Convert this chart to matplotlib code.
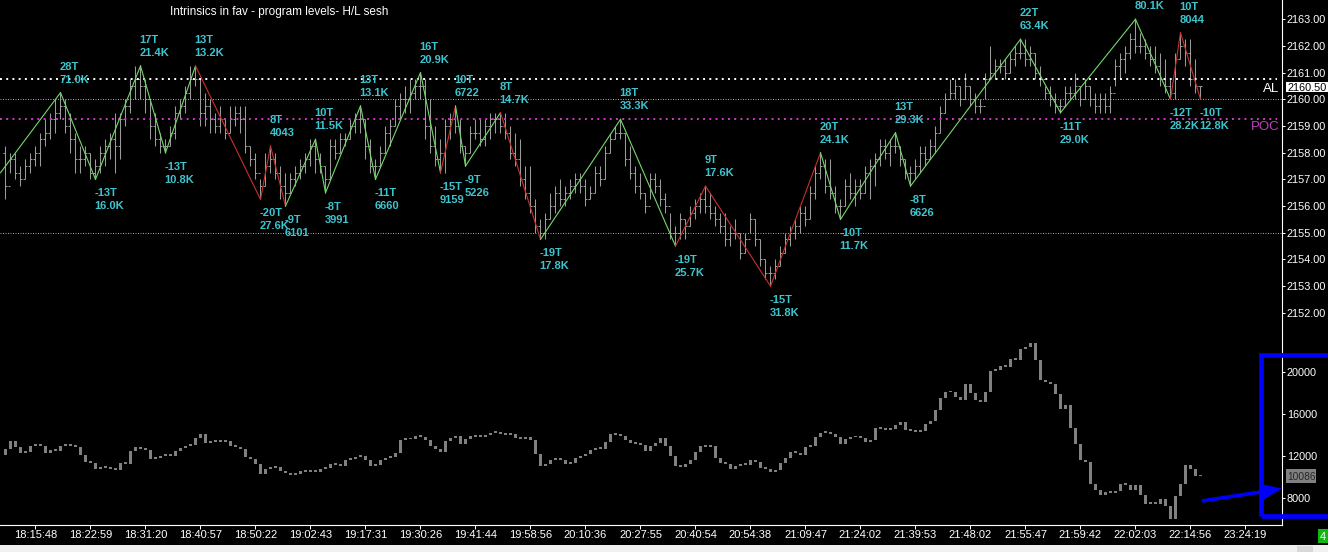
import numpy as np
import matplotlib
matplotlib.use("Agg")
import matplotlib.pyplot as plt
from matplotlib.patches import Rectangle, Polygon
from matplotlib.lines import Line2D

W, H, DPI = 1328, 552, 100

# ---- upper pane: price bars, in 0.25 ticks above 2150.00 ----
hi_t = [33, 32, 32, 30, 31, 32, 33, 35, 37, 38,
        40, 41, 40, 38, 35, 33, 33, 32, 31, 33,
        34, 35, 38, 38, 40, 43, 45, 45, 43, 40,
        38, 35, 34, 36, 39, 40, 42, 45, 45, 43,
        41, 40, 38, 39, 37, 39, 39, 39, 39, 33,
        32, 28, 32, 33, 32, 30, 29, 29, 30, 31,
        32, 34, 34, 32, 30, 34, 34, 35, 35, 37,
        38, 39, 37, 34, 31, 33, 36, 37, 40, 41,
        42, 43, 43, 44, 43, 40, 36, 34, 37, 38,
        39, 37, 33, 36, 37, 37, 37, 38, 38, 38,
        38, 36, 35, 34, 30, 30, 25, 22, 23, 26,
        27, 28, 27, 28, 29, 29, 28, 27, 30, 30,
        33, 35, 36, 37, 35, 33, 30, 29, 26, 29,
        29, 28, 26, 23, 21, 23, 22, 24, 25, 26,
        27, 26, 24, 23, 23, 21, 22, 20, 20, 23,
        22, 19, 16, 15, 16, 18, 20, 21, 22, 24,
        24, 27, 30, 32, 31, 31, 27, 25, 28, 29,
        28, 28, 30, 31, 32, 34, 34, 34, 35, 33,
        31, 30, 31, 33, 33, 34, 36, 39, 41, 43,
        43, 42, 44, 42, 41, 40, 44, 48, 46, 46,
        46, 47, 48, 49, 49, 48, 47, 45, 42, 42,
        41, 40, 42, 42, 44, 42, 43, 42, 41, 41,
        41, 42, 46, 47, 48, 50, 52, 50, 49, 48,
        48, 47, 46, 43, 47, 50, 49, 49, 46, 42]
lo_t = [25, 29, 28, 27, 28, 29, 30, 30, 33, 34,
        35, 37, 35, 32, 29, 29, 30, 28, 28, 29,
        30, 31, 29, 31, 36, 38, 40, 40, 38, 34,
        33, 32, 32, 33, 34, 37, 38, 40, 42, 36,
        36, 35, 35, 35, 34, 35, 36, 35, 32, 30,
        28, 25, 27, 29, 28, 25, 24, 26, 27, 28,
        29, 30, 29, 29, 26, 28, 31, 32, 33, 34,
        35, 35, 31, 29, 28, 30, 32, 33, 36, 37,
        38, 38, 40, 40, 34, 32, 30, 29, 29, 34,
        35, 32, 30, 32, 34, 33, 33, 34, 35, 35,
        34, 31, 30, 27, 25, 23, 20, 19, 19, 22,
        23, 24, 24, 25, 26, 26, 24, 25, 26, 27,
        28, 32, 34, 34, 30, 28, 26, 25, 23, 25,
        26, 24, 23, 19, 18, 19, 19, 21, 22, 23,
        23, 22, 21, 20, 18, 18, 19, 16, 17, 20,
        18, 15, 13, 12, 13, 15, 17, 18, 19, 20,
        21, 22, 25, 28, 26, 25, 23, 22, 24, 25,
        24, 25, 26, 25, 27, 30, 31, 30, 32, 30,
        28, 27, 28, 29, 30, 31, 32, 35, 38, 40,
        40, 39, 40, 39, 38, 38, 40, 43, 43, 44,
        43, 44, 45, 46, 45, 45, 43, 42, 40, 39,
        38, 38, 39, 40, 40, 39, 40, 39, 38, 38,
        38, 38, 42, 43, 44, 46, 47, 47, 46, 45,
        44, 42, 41, 40, 40, 46, 45, 42, 41, 40]
cl_t = [27, 31, 29, 28, 30, 31, 32, 34, 35, 37,
        38, 39, 36, 34, 31, 31, 32, 29, 30, 32,
        33, 34, 33, 37, 39, 42, 43, 42, 40, 36,
        34, 33, 33, 35, 38, 39, 41, 43, 43, 38,
        39, 37, 36, 37, 35, 37, 38, 37, 33, 31,
        29, 27, 30, 31, 29, 27, 26, 28, 29, 30,
        31, 33, 31, 30, 28, 33, 32, 34, 34, 36,
        37, 37, 33, 30, 30, 32, 35, 36, 39, 40,
        40, 41, 42, 42, 36, 33, 31, 32, 36, 37,
        36, 33, 32, 35, 35, 34, 36, 37, 37, 36,
        35, 32, 31, 28, 26, 24, 21, 20, 22, 24,
        26, 25, 26, 27, 28, 27, 25, 26, 29, 28,
        32, 34, 35, 35, 31, 29, 27, 26, 24, 28,
        27, 25, 24, 20, 20, 22, 21, 23, 24, 25,
        24, 23, 22, 21, 19, 20, 20, 17, 19, 22,
        19, 16, 14, 14, 15, 17, 19, 20, 21, 23,
        22, 26, 29, 30, 27, 26, 24, 24, 27, 26,
        27, 26, 29, 30, 31, 33, 32, 33, 33, 31,
        29, 29, 30, 32, 31, 33, 35, 38, 40, 41,
        42, 40, 42, 40, 39, 39, 43, 44, 45, 45,
        44, 46, 47, 47, 46, 47, 44, 43, 41, 40,
        39, 39, 41, 41, 42, 40, 42, 40, 39, 40,
        39, 41, 45, 46, 47, 49, 48, 48, 47, 46,
        45, 43, 42, 41, 46, 48, 47, 43, 42, 42]
open0_t = 32

# ---- zigzag swing points (bar index, tick) with their two label lines ----
zz_bar = [-1, 11, 18, 27, 32, 38, 51, 53, 56, 62, 64, 71, 74, 83, 87, 90, 92,
          99, 107, 123, 134, 140, 153, 163, 167, 178, 181, 203, 211, 226, 233, 235, 239]
zz_tick = [29, 41, 28, 45, 32, 45, 25, 33, 24, 34, 26, 39, 28, 44, 29, 39, 30,
           38, 19, 37, 18, 27, 12, 32, 22, 35, 27, 49, 38, 52, 40, 50, 40]
zz_top = ["", "28T", "-13T", "17T", "-13T", "13T", "-20T", "8T", "-9T", "10T", "-8T",
          "13T", "-11T", "16T", "-15T", "10T", "-9T", "8T", "-19T", "18T", "-19T",
          "9T", "-15T", "20T", "-10T", "13T", "-8T", "22T", "-11T", "", "-12T", "10T", "-10T"]
zz_bot = ["", "71.0K", "16.0K", "21.4K", "10.8K", "13.2K", "27.6K", "4043", "6101",
          "11.5K", "3991", "13.1K", "6660", "20.9K", "9159", "6722", "5226", "14.7K",
          "17.8K", "33.3K", "25.7K", "17.6K", "31.8K", "24.1K", "11.7K", "29.3K",
          "6626", "63.4K", "29.0K", "80.1K", "28.2K", "8044", "12.8K"]
zz_col = "gggggrrrggggggrggrggrrrgggggggrr"

# ---- lower pane: indicator candles (closes) ----
sub_cl = [12690, 13460, 12880, 12310, 12410, 12980, 13070, 12980, 12310, 12600,
          12500, 12980, 13070, 12980, 12880, 12120, 11460, 11360, 10790, 10980,
          10880, 10790, 10700, 11360, 11270, 12500, 12880, 12690, 12600, 11740,
          11840, 12030, 12120, 12030, 12500, 12790, 12980, 13070, 13740, 14120,
          13270, 13360, 13420, 13360, 13420, 12980, 12900, 12690, 11930, 11740,
          11270, 10310, 10790, 10880, 10980, 10600, 10410, 10220, 10310, 10600,
          10520, 10690, 10500, 10790, 10880, 11270, 11200, 11080, 11650, 11740,
          11930, 12030, 11650, 11080, 11170, 11650, 11840, 11930, 12310, 13550,
          13650, 13600, 13930, 13880, 13550, 12980, 12690, 12410, 13460, 13740,
          13930, 13170, 13650, 13930, 13880, 13840, 14030, 14220, 14310, 14120,
          14030, 14120, 13740, 13690, 13840, 13550, 12220, 11080, 11270, 11650,
          11740, 11650, 11270, 11360, 11840, 12030, 12220, 12600, 12790, 12740,
          13360, 14120, 14070, 13930, 13550, 13270, 13170, 13070, 12500, 12980,
          13270, 13740, 12980, 12030, 11080, 11000, 11270, 11650, 12410, 12980,
          12880, 12980, 11840, 11360, 11300, 10790, 11080, 11270, 11200, 11650,
          11460, 10880, 10790, 10500, 10690, 11360, 11840, 12410, 12310, 12120,
          12880, 12980, 13840, 14220, 14310, 14120, 13840, 13170, 13650, 13840,
          13790, 13740, 13360, 13550, 14690, 14640, 14500, 14600, 14980, 15260,
          14500, 14450, 14310, 14410, 15070, 15360, 16410, 17550, 18120, 18080,
          17640, 17360, 18880, 18020, 17360, 17170, 18120, 20120, 20210, 20600,
          20500, 21260, 21210, 22210, 22400, 22790, 21170, 19260, 19070, 18880,
          17930, 16500, 16880, 14690, 13170, 11650, 11460, 9360, 8790, 8310,
          8600, 8550, 8700, 9360, 9310, 8790, 9270, 8310, 7460, 7550,
          7500, 7930, 7270, 6030, 8220, 9360, 11170, 10790, 10120, 10086]
sub_open0 = 12120

time_labels = ["18:15:48", "18:22:59", "18:31:20", "18:40:57", "18:50:22", "19:02:43",
               "19:17:31", "19:30:26", "19:41:44", "19:58:56", "20:10:36", "20:27:55",
               "20:40:54", "20:54:38", "21:09:47", "21:24:02", "21:39:53", "21:48:02",
               "21:55:47", "21:59:42", "22:02:03", "22:14:56", "23:24:19"]
price_ticks = [2152, 2153, 2154, 2155, 2156, 2157, 2158, 2159, 2160, 2161, 2162, 2163]
sub_ticks = [8000, 12000, 16000, 20000]

level_al = 2160.75
level_hi = 2160.00
level_poc = 2159.25
level_lo = 2155.00
last_price = 2160.50
last_sub = 10086

plt.rcParams['font.family'] = ['Liberation Sans', 'DejaVu Sans']

to_price = lambda t: 2150 + np.asarray(t, dtype=float) * 0.25
hi = to_price(hi_t)
lo = to_price(lo_t)
cl = to_price(cl_t)
op = np.concatenate([to_price([open0_t]), cl[:-1]])
x = np.arange(len(hi))

fig = plt.figure(figsize=(W / DPI, H / DPI), dpi=DPI, facecolor="black")


def fxy(px, py):
    return px / W, 1 - py / H


plot_right = 1282
ax1 = fig.add_axes([0, 1 - 335 / H, plot_right / W, 335 / H])
ax2 = fig.add_axes([0, 1 - 525 / H, plot_right / W, 190 / H])
for ax in (ax1, ax2):
    ax.set_facecolor("black")
    ax.set_xlim(-1.1, 255.3)
    for s in ("left", "top", "bottom"):
        ax.spines[s].set_visible(False)
    ax.spines["right"].set_color("white")
    ax.spines["right"].set_linewidth(0.8)
    ax.yaxis.tick_right()
    ax.tick_params(axis="y", colors="white", length=2.2, width=0.72, pad=1.2, labelsize=7.8)
    ax.tick_params(axis="x", bottom=False, labelbottom=False)

# upper pane
ax1.set_ylim(2151.17, 2163.72)
ax1.set_yticks(price_ticks)
ax1.set_yticklabels([f"{p:.2f}" for p in price_ticks])

bar_col = "#9a9a9a"
ax1.vlines(x, lo, hi, color=bar_col, lw=0.75, zorder=2)
ax1.hlines(op, x - 0.4, x, color=bar_col, lw=0.75, zorder=2)
ax1.hlines(cl, x, x + 0.4, color=bar_col, lw=0.75, zorder=2)

ax1.axhline(level_al, xmax=0.996, color="white", lw=1.4, linestyle=(0, (1, 2.2)), zorder=3)
ax1.axhline(level_hi, color="#5fc2c2", lw=0.72, linestyle=(0, (1, 1.5)), zorder=3)
ax1.axhline(level_poc, xmax=0.996, color="#c83cc8", lw=1.4, linestyle=(0, (1, 2.2)), zorder=3)
ax1.axhline(level_lo, color="#5fc2c2", lw=0.72, linestyle=(0, (1, 1.5)), zorder=3)

zz_p = to_price(zz_tick)
for k in range(len(zz_bar) - 1):
    c = "#74d96a" if zz_col[k] == "g" else "#c8302c"
    ax1.plot(zz_bar[k:k + 2], zz_p[k:k + 2], color=c, lw=0.8, zorder=4)

lab_col = "#3cc5cf"
for k in range(1, len(zz_bar)):
    peak = zz_tick[k] > zz_tick[k - 1]
    offs = (26, 13) if peak else (-14, -27)
    for txt, dy in zip((zz_top[k], zz_bot[k]), offs):
        if txt:
            ax1.annotate(txt, (zz_bar[k], zz_p[k]), xytext=(-1, dy),
                         textcoords="offset pixels", ha="left", va="center",
                         color=lab_col, fontsize=8, fontweight="bold", zorder=5)

# lower pane
sub_c = np.asarray(sub_cl, dtype=float)
sub_o = np.concatenate([[sub_open0], sub_c[:-1]])
ax2.set_ylim(5458, 23546)
ax2.set_yticks(sub_ticks)
ax2.set_yticklabels([str(v) for v in sub_ticks])
ax2.bar(x, np.maximum(np.abs(sub_c - sub_o), 170), bottom=np.minimum(sub_c, sub_o),
        width=0.6, color="#808080", linewidth=0, zorder=2)
ax2.spines["bottom"].set_visible(True)
ax2.spines["bottom"].set_color("white")
ax2.spines["bottom"].set_linewidth(0.8)
ax2.set_xticks(6 + 11 * np.arange(len(time_labels)))
ax2.set_xticklabels(time_labels)
ax2.tick_params(axis="x", bottom=True, labelbottom=True, colors="white",
                length=2.9, width=0.72, pad=0.6, labelsize=8)

# title
fig.text(*fxy(170, 11), "Intrinsics in fav - program levels- H/L sesh", color="white",
         fontsize=8.5, va="center_baseline")

# right-side markers
fig.text(*fxy(1279, 87), "AL", color="white", fontsize=9.5, ha="right", va="center_baseline")
fig.text(*fxy(1279, 126), "POC", color="#c040c0", fontsize=9.5, ha="right", va="center_baseline")

x0, y0 = fxy(1286, 92)
fig.patches.append(Rectangle((x0, y0), 50 / W, 10 / H, transform=fig.transFigure,
                             facecolor="white", edgecolor="none"))
fig.text(*fxy(1287, 87), f"{last_price:.2f}", color="black", fontsize=7.8, va="center_baseline")

x0, y0 = fxy(1286, 483)
fig.patches.append(Rectangle((x0, y0), 30 / W, 14 / H, transform=fig.transFigure,
                             facecolor="#808080", edgecolor="none"))
fig.text(*fxy(1287, 476), str(last_sub), color="#262626", fontsize=7.4, va="center_baseline")

# blue highlight box and arrow
x0, y0 = fxy(1260.5, 516)
fig.patches.append(Rectangle((x0, y0), 90 / W, 161 / H, transform=fig.transFigure,
                             facecolor="none", edgecolor="#0000ff", lw=3.4))
fig.lines.append(Line2D([1202 / W, 1264 / W], [1 - 501 / H, 1 - 491.5 / H],
                        transform=fig.transFigure, color="#0000ff", lw=2.6,
                        solid_capstyle="butt"))
head = [fxy(1282, 488.5), fxy(1263.2, 499.9), fxy(1260.8, 484.1)]
fig.patches.append(Polygon(head, closed=True, transform=fig.transFigure,
                           facecolor="#0000ff", edgecolor="none"))

# bottom status strip
x0, y0 = fxy(0, 552)
fig.patches.append(Rectangle((x0, y0), 1, 7 / H, transform=fig.transFigure,
                             facecolor="#f0f0f0", edgecolor="none"))
x0, y0 = fxy(1297, 552)
fig.patches.append(Rectangle((x0, y0), 16 / W, 6 / H, transform=fig.transFigure,
                             facecolor="#d8d8d8", edgecolor="none"))
x0, y0 = fxy(1318, 543)
fig.patches.append(Rectangle((x0, y0), 12 / W, 14 / H, transform=fig.transFigure,
                             facecolor="#12b812", edgecolor="none"))
fig.text(*fxy(1319.5, 536), "4", color="white", fontsize=8, va="center_baseline")

fig.savefig("out.png", dpi=DPI, facecolor="black")
